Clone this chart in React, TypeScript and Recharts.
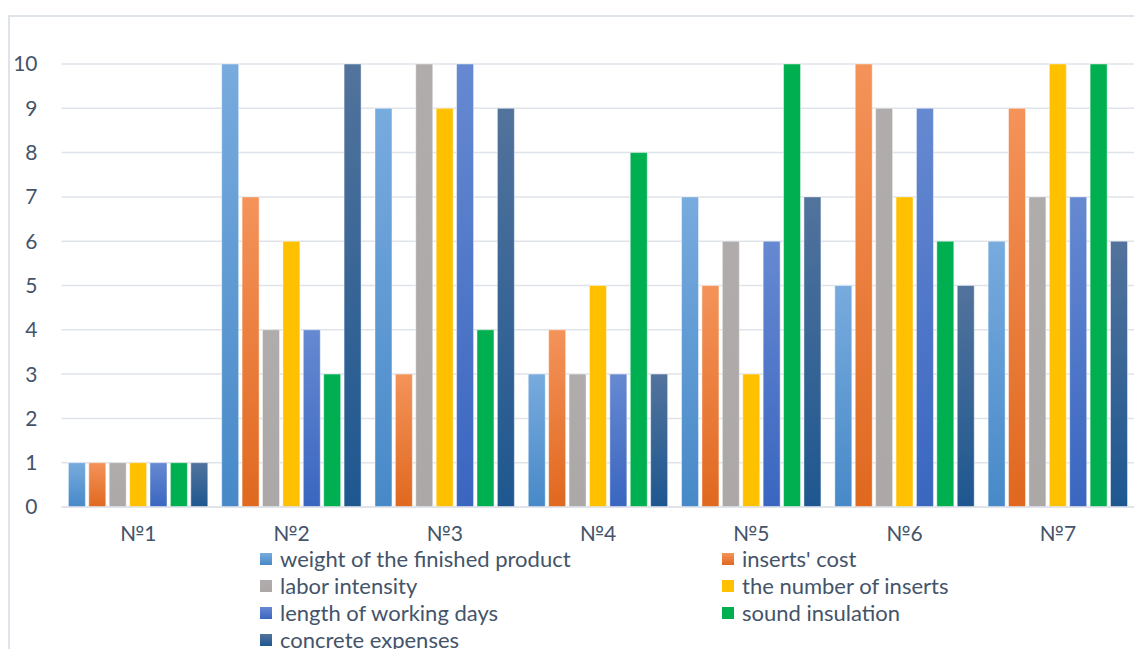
import { BarChart, Bar, XAxis, YAxis, CartesianGrid, Legend } from "recharts";

const categories = ["№1", "№2", "№3", "№4", "№5", "№6", "№7"];

const seriesNames = [
  "weight of the finished product",
  "inserts' cost",
  "labor intensity",
  "the number of inserts",
  "length of working days",
  "sound insulation",
  "concrete expenses",
];

const weight = [1, 10, 9, 3, 7, 5, 6];
const insertsCost = [1, 7, 3, 4, 5, 10, 9];
const laborIntensity = [1, 4, 10, 3, 6, 9, 7];
const numberOfInserts = [1, 6, 9, 5, 3, 7, 10];
const workingDays = [1, 4, 10, 3, 6, 9, 7];
const soundInsulation = [1, 3, 4, 8, 10, 6, 10];
const concreteExpenses = [1, 10, 9, 3, 7, 5, 6];

const seriesValues = [
  weight,
  insertsCost,
  laborIntensity,
  numberOfInserts,
  workingDays,
  soundInsulation,
  concreteExpenses,
];

const yTicks = [0, 1, 2, 3, 4, 5, 6, 7, 8, 9, 10];

// gradient top / bottom colours per series
const colorsTop = ["#78abde", "#f4935a", "#afacab", "#ffc000", "#6689d1", "#00b050", "#52739c"];
const colorsBottom = ["#4789c8", "#e0681f", "#aba8a7", "#ffc000", "#3a66c0", "#00b050", "#1e5790"];

const data = categories.map((name, i) => {
  const row: Record<string, string | number> = { name };
  seriesValues.forEach((vals, s) => {
    row["s" + s] = vals[i];
  });
  return row;
});

const textColor = "#44546a";
const font = "Lato, 'Open Sans', sans-serif";

const renderLegend = () => (
  <div
    style={{
      display: "grid",
      gridTemplateColumns: "462px 462px",
      height: 108,
      fontFamily: font,
      fontSize: 22,
      color: textColor,
    }}
  >
    {seriesNames.map((n, i) => (
      <div key={n} style={{ display: "flex", alignItems: "center", height: 27 }}>
        <span
          style={{
            display: "inline-block",
            width: 12,
            height: 12,
            marginRight: 8,
            background: `linear-gradient(${colorsTop[i]}, ${colorsBottom[i]})`,
          }}
        />
        <span style={{ whiteSpace: "nowrap" }}>{n}</span>
      </div>
    ))}
  </div>
);

export default function App() {
  return (
    <div
      style={{
        position: "fixed",
        left: 8,
        top: 15,
        width: 1126,
        height: 634,
        overflow: "hidden",
        borderLeft: "2px solid #dfe3ea",
        borderTop: "2px solid #dfe3ea",
        background: "#fff",
        fontFamily: font,
      }}
    >
      <BarChart
        width={1126}
        height={640}
        data={data}
        margin={{ top: 47, right: 1.5, left: 0, bottom: 12 }}
        barCategoryGap="4.5%"
        barGap={3.4}
      >
        <defs>
          {colorsTop.map((c, i) => (
            <linearGradient key={i} id={"g" + i} x1="0" y1="0" x2="0" y2="1">
              <stop offset="0%" stopColor={c} />
              <stop offset="100%" stopColor={colorsBottom[i]} />
            </linearGradient>
          ))}
        </defs>
        <CartesianGrid vertical={false} stroke="#dfe3ea" strokeWidth={1.5} />
        <XAxis
          dataKey="name"
          axisLine={{ stroke: "#dfe3ea", strokeWidth: 1.5 }}
          tickLine={false}
          tickSize={0}
          tickMargin={19}
          height={30}
          tick={{ fill: textColor, fontSize: 21 }}
        />
        <YAxis
          domain={[0, 10]}
          ticks={yTicks}
          width={51.5}
          axisLine={false}
          tickLine={false}
          tickSize={0}
          tickMargin={24}
          tick={{ fill: textColor, fontSize: 21 }}
        />
        <Legend
          content={renderLegend}
          verticalAlign="bottom"
          wrapperStyle={{ top: 528, left: 250, width: 930 }}
        />
        {seriesNames.map((n, i) => (
          <Bar
            key={n}
            dataKey={"s" + i}
            name={n}
            fill={`url(#g${i})`}
            stroke="rgba(255,255,255,0.45)"
            strokeWidth={1}
            isAnimationActive={false}
          />
        ))}
      </BarChart>
    </div>
  );
}
